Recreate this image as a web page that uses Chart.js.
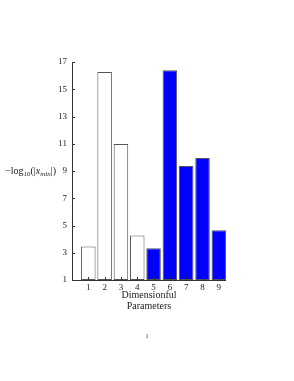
<!DOCTYPE html>
<html>
<head>
<meta charset="utf-8">
<script src="https://cdn.jsdelivr.net/npm/chart.js@4"></script>
<style>
  html, body { margin: 0; padding: 0; background: #fff; }
  #wrap { width: 294px; height: 381px; position: relative; }
</style>
</head>
<body>
<div id="wrap"><canvas id="c"></canvas></div>
<script>
// parameter index, -log10(|x_min|) and whether the parameter is dimensionful (blue)
const params = [1, 2, 3, 4, 5, 6, 7, 8, 9];
const values = [3.45, 16.27, 10.98, 4.26, 3.33, 16.39, 9.36, 9.95, 4.65];
const filled = [false, false, false, false, true, true, true, true, true];
const yTicks = [1, 3, 5, 7, 9, 11, 13, 15, 17];
const xTitle = ['Dimensionful', 'Parameters'];
const pageNumber = '1';

const FONT = '"Liberation Serif", "DejaVu Serif", serif';
const INK = '#333';

const points = params.map((p, i) => ({ x: p, y: values[i] }));

// axes in the LaTeX style: left and bottom lines, ticks pointing inward, free text titles
const decorations = {
  id: 'decorations',
  afterDraw(chart) {
    const ctx = chart.ctx;
    const { left, right, top, bottom } = chart.chartArea;
    const xs = chart.scales.x, ys = chart.scales.y;
    ctx.save();
    ctx.strokeStyle = INK;
    ctx.lineWidth = 1;
    ctx.beginPath();
    ctx.moveTo(left + 0.5, top);
    ctx.lineTo(left + 0.5, bottom + 0.5);
    ctx.lineTo(right, bottom + 0.5);
    ctx.stroke();
    ctx.beginPath();
    yTicks.forEach(v => {
      const py = Math.round(ys.getPixelForValue(v)) + 0.5;
      ctx.moveTo(left, py);
      ctx.lineTo(left + 3, py);
    });
    params.forEach(p => {
      const px = Math.round(xs.getPixelForValue(p)) + 0.5;
      ctx.moveTo(px, bottom);
      ctx.lineTo(px, bottom - 3);
    });
    ctx.stroke();

    ctx.fillStyle = '#222';
    ctx.textBaseline = 'alphabetic';
    // x title, two lines
    ctx.textAlign = 'center';
    ctx.font = '10px ' + FONT;
    const cx = (left + right) / 2;
    ctx.fillText(xTitle[0], cx, bottom + 18);
    ctx.fillText(xTitle[1], cx, bottom + 29);

    // y title, horizontal, left of the axis
    ctx.textAlign = 'left';
    let x = 5;
    const by = (top + bottom) / 2 + 3;
    const part = (txt, font, dy) => {
      ctx.font = font;
      ctx.fillText(txt, x, by + dy);
      x += ctx.measureText(txt).width;
    };
    part('\u2212log', '10px ' + FONT, 0);
    part('10', '7px ' + FONT, 2);
    part('(|', '10px ' + FONT, 0);
    part('x', 'italic 10px ' + FONT, 0);
    part('min', 'italic 7px ' + FONT, 2);
    part('|)', '10px ' + FONT, 0);

    // page number
    ctx.textAlign = 'center';
    ctx.font = '6px ' + FONT;
    ctx.fillText(pageNumber, 147, 338);
    ctx.restore();
  }
};

new Chart(document.getElementById('c'), {
  type: 'bar',
  data: {
    datasets: [{
      data: points,
      base: 1,
      backgroundColor: filled.map(f => f ? '#0000ff' : '#ffffff'),
      borderColor: '#555',
      borderWidth: 1,
      borderSkipped: false,
      barPercentage: 0.89,
      categoryPercentage: 1
    }]
  },
  plugins: [decorations],
  options: {
    responsive: true,
    maintainAspectRatio: false,
    animation: false,
    layout: { padding: { top: 62, right: 68, left: 0, bottom: 0 } },
    plugins: { legend: { display: false }, tooltip: { enabled: false } },
    scales: {
      x: {
        type: 'linear',
        min: 0,
        max: 9.44,
        offset: false,
        afterBuildTicks: s => { s.ticks = params.map(v => ({ value: v })); },
        afterFit: s => { s.height = 101; },
        grid: { display: false, drawTicks: false },
        border: { display: false },
        ticks: { color: '#222', padding: 2, maxRotation: 0, autoSkip: false, font: { family: FONT, size: 9 } }
      },
      y: {
        min: 1,
        max: 17,
        afterBuildTicks: s => { s.ticks = yTicks.map(v => ({ value: v })); },
        afterFit: s => { s.width = 72; },
        grid: { display: false, drawTicks: false },
        border: { display: false },
        ticks: { color: '#222', padding: 5, font: { family: FONT, size: 9 } }
      }
    }
  }
});
</script>
</body>
</html>
